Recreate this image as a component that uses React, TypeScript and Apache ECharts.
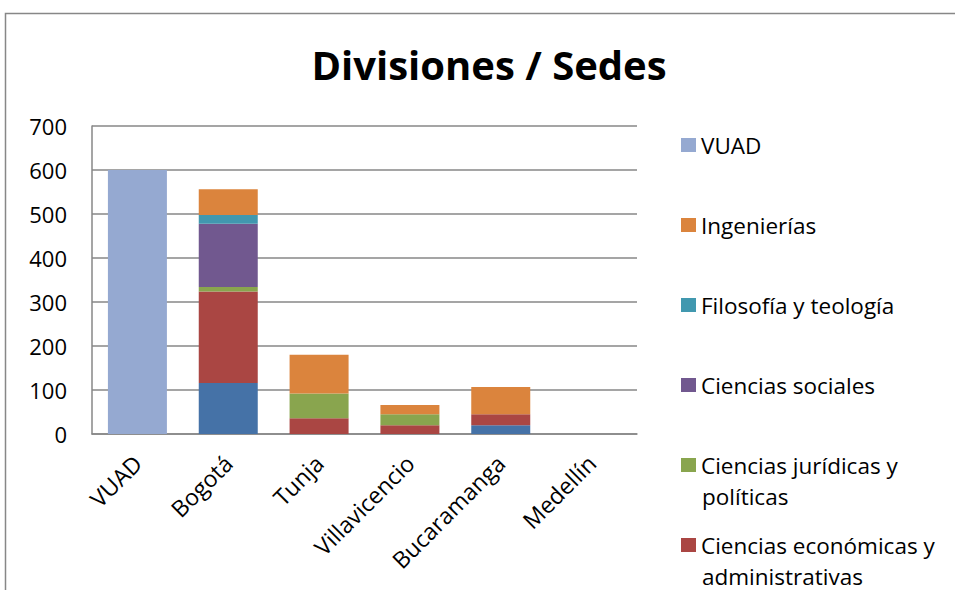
import React, { useEffect, useRef } from "react";
import * as echarts from "echarts";

const categories = ["VUAD", "Bogotá", "Tunja", "Villavicencio", "Bucaramanga", "Medellín"];
const yTicks = { min: 0, max: 700, interval: 100 };

const saludValues = [0, 116, 0, 0, 20, 0];
const economicasValues = [0, 208, 36, 20, 25, 0];
const juridicasValues = [0, 10, 56, 25, 0, 0];
const socialesValues = [0, 144, 0, 0, 0, 0];
const filosofiaValues = [0, 20, 0, 0, 0, 0];
const ingenieriasValues = [0, 58, 88, 21, 62, 0];
const vuadValues = [600, 0, 0, 0, 0, 0];

const seriesNames = [
  "Ciencias de la salud",
  "Ciencias económicas y administrativas",
  "Ciencias jurídicas y políticas",
  "Ciencias sociales",
  "Filosofía y teología",
  "Ingenierías",
  "VUAD",
];
const seriesValues = [
  saludValues,
  economicasValues,
  juridicasValues,
  socialesValues,
  filosofiaValues,
  ingenieriasValues,
  vuadValues,
];
const seriesColors = ["#4572A7", "#AA4643", "#89A54E", "#71588F", "#4198AF", "#DB843D", "#95A9D1"];

// legend shows in reverse order (top series first); first line shown by legend, continuation by graphic
const legendOrder = [
  "VUAD",
  "Ingenierías",
  "Filosofía y teología",
  "Ciencias sociales",
  "Ciencias jurídicas y políticas",
  "Ciencias económicas y administrativas",
];
const legendFirstLine: Record<string, string> = {
  "Ciencias jurídicas y políticas": "Ciencias jurídicas y",
  "Ciencias económicas y administrativas": "Ciencias económicas y",
};
const legendSecondLine: Record<string, string> = {
  "Ciencias jurídicas y políticas": "políticas",
  "Ciencias económicas y administrativas": "administrativas",
};

const FONT = "'Open Sans', 'Noto Sans', sans-serif";

export default function App() {
  const ref = useRef<HTMLDivElement>(null);
  useEffect(() => {
    if (!ref.current) return;
    const chart = echarts.init(ref.current, null, { renderer: "svg" });
    const lineH = 28;
    const legendStep = 80;
    const firstCenter = 145;
    const legendTop = firstCenter - lineH / 2;
    const graphics: any[] = [
      {
        type: "rect",
        shape: { x: 5.5, y: 13.5, width: 1200, height: 1200 },
        style: { fill: "none", stroke: "#878787", lineWidth: 1.5 },
        silent: true,
      },
    ];
    legendOrder.forEach((name, i) => {
      const second = legendSecondLine[name];
      if (second) {
        graphics.push({
          type: "text",
          x: 702,
          y: firstCenter + i * legendStep + 31,
          style: {
            text: second,
            fontSize: 22.5,
            fontFamily: FONT,
            lineHeight: lineH,
            fill: "#000",
            textAlign: "left",
            textVerticalAlign: "middle",
          },
        });
      }
    });
    chart.setOption({
      animation: false,
      backgroundColor: "#fff",
      title: {
        text: "Divisiones / Sedes",
        left: 484,
        textAlign: "center",
        top: 39,
        textStyle: { fontFamily: FONT, fontWeight: "bold", fontSize: 40, color: "#000" },
      },
      legend: {
        orient: "vertical",
        left: 681,
        top: legendTop,
        padding: 0,
        itemWidth: 15,
        itemHeight: 14,
        itemGap: legendStep - lineH,
        icon: "rect",
        data: legendOrder,
        selectedMode: false,
        formatter: (n: string) => legendFirstLine[n] || n,
        textStyle: { fontFamily: FONT, fontSize: 22.5, color: "#000", lineHeight: lineH },
      },
      grid: { left: 92, right: 318, top: 126, bottom: 156, containLabel: false },
      xAxis: {
        type: "category",
        data: categories,
        axisLine: { lineStyle: { color: "#878787", width: 1.5 } },
        axisTick: { show: false },
        axisLabel: { rotate: 45, fontFamily: FONT, fontSize: 23, color: "#000", margin: 25, interval: 0 },
      },
      yAxis: {
        type: "value",
        min: yTicks.min,
        max: yTicks.max,
        interval: yTicks.interval,
        axisLine: { show: true, lineStyle: { color: "#878787", width: 1.5 } },
        axisTick: { show: false },
        splitLine: { lineStyle: { color: "#878787", width: 1.5 } },
        axisLabel: { fontFamily: FONT, fontSize: 22, color: "#000", margin: 25 },
      },
      series: seriesNames.map((name, i) => ({
        name,
        type: "bar",
        stack: "total",
        barWidth: 59,
        data: seriesValues[i],
        itemStyle: { color: seriesColors[i] },
      })),
      graphic: graphics,
    });
    return () => chart.dispose();
  }, []);
  return (
    <div
      ref={ref}
      style={{ position: "fixed", left: 0, top: 0, width: 955, height: 590, background: "#fff" }}
    />
  );
}
